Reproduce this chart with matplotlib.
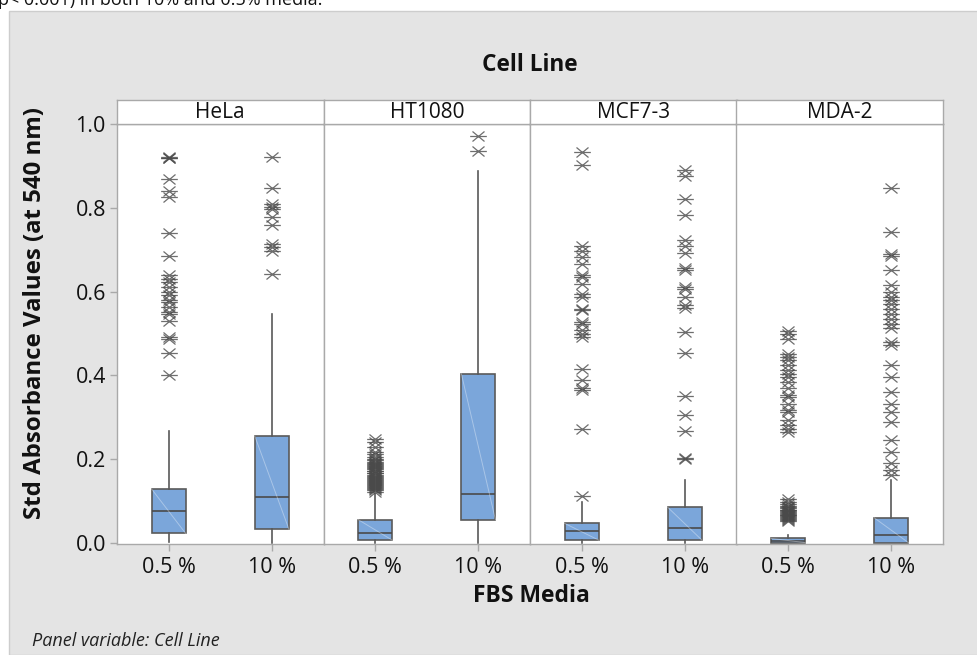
import matplotlib
matplotlib.use("Agg")
import matplotlib.pyplot as plt
from matplotlib.path import Path
from matplotlib.patches import Rectangle

plt.rcParams['font.family'] = ['Open Sans', 'DejaVu Sans']

# ---------------- data ----------------
cell_lines = ["HeLa", "HT1080", "MCF7-3", "MDA-2"]
media = ["0.5 %", "10 %"]

# box statistics per cell line: [0.5 %, 10 %]
q1 = {"HeLa": [0.023, 0.033], "HT1080": [0.007, 0.056], "MCF7-3": [0.007, 0.007], "MDA-2": [0.001, 0.001]}
med = {"HeLa": [0.076, 0.109], "HT1080": [0.023, 0.116], "MCF7-3": [0.029, 0.035], "MDA-2": [0.005, 0.019]}
q3 = {"HeLa": [0.129, 0.255], "HT1080": [0.056, 0.404], "MCF7-3": [0.047, 0.085], "MDA-2": [0.011, 0.060]}
whis_lo = {"HeLa": [0.003, 0.0], "HT1080": [0.0, 0.0], "MCF7-3": [0.0, 0.0], "MDA-2": [0.0, 0.0]}
whis_hi = {"HeLa": [0.267, 0.547], "HT1080": [0.118, 0.889], "MCF7-3": [0.098, 0.150], "MDA-2": [0.019, 0.150]}

hela_05_out = [0.920, 0.922, 0.918, 0.869, 0.841, 0.825, 0.739, 0.686, 0.639, 0.631, 0.623,
               0.611, 0.599, 0.593, 0.579, 0.575, 0.563, 0.551, 0.547, 0.531, 0.492, 0.488,
               0.454, 0.402]
hela_10_out = [0.922, 0.847, 0.809, 0.803, 0.797, 0.778, 0.758, 0.714, 0.706, 0.698, 0.643]
ht_05_out = [0.122, 0.126, 0.129, 0.131, 0.134, 0.137, 0.139, 0.141, 0.144, 0.146, 0.149,
             0.151, 0.153, 0.156, 0.158, 0.161, 0.163, 0.166, 0.168, 0.171, 0.173, 0.176,
             0.178, 0.181, 0.183, 0.186, 0.188, 0.191, 0.194, 0.197, 0.201, 0.206, 0.213,
             0.218, 0.229, 0.241, 0.249]
ht_10_out = [0.972, 0.936]
mcf_05_out = [0.112, 0.271, 0.365, 0.371, 0.388, 0.416, 0.492, 0.500, 0.508, 0.522, 0.527,
              0.557, 0.559, 0.587, 0.595, 0.619, 0.634, 0.639, 0.665, 0.682, 0.698, 0.708,
              0.901, 0.932]
mcf_10_out = [0.200, 0.204, 0.267, 0.305, 0.350, 0.454, 0.504, 0.562, 0.569, 0.587, 0.607,
              0.611, 0.652, 0.656, 0.692, 0.708, 0.722, 0.784, 0.820, 0.877, 0.891]
mda_05_out = [0.052, 0.055, 0.058, 0.060, 0.062, 0.064, 0.066, 0.068, 0.070, 0.072, 0.074,
              0.076, 0.078, 0.080, 0.083, 0.086, 0.089, 0.093, 0.098, 0.104,
              0.265, 0.273, 0.281, 0.293, 0.313, 0.317, 0.333, 0.349, 0.353, 0.369, 0.384,
              0.396, 0.404, 0.412, 0.424, 0.436, 0.444, 0.452, 0.488, 0.500, 0.507]
mda_10_out = [0.162, 0.174, 0.190, 0.218, 0.247, 0.289, 0.313, 0.333, 0.360, 0.396, 0.426,
              0.472, 0.480, 0.512, 0.523, 0.535, 0.547, 0.559, 0.571, 0.581, 0.587, 0.599,
              0.615, 0.652, 0.686, 0.690, 0.743, 0.848]
outliers = {"HeLa": [hela_05_out, hela_10_out], "HT1080": [ht_05_out, ht_10_out],
            "MCF7-3": [mcf_05_out, mcf_10_out], "MDA-2": [mda_05_out, mda_10_out]}

y_ticks = [0.0, 0.2, 0.4, 0.6, 0.8, 1.0]

# ---------------- styling ----------------
W, H = 978, 655
fig = plt.figure(figsize=(W / 100, H / 100), dpi=100)
fig.patch.set_facecolor("white")

# grey frame
fig.patches.append(Rectangle((9 / W, 0), 1.0, 1 - 11 / H, transform=fig.transFigure,
                             facecolor="#e4e4e4", edgecolor="#cdcdcd", linewidth=1.0, zorder=-10))
# clipped line of text above the chart (cut off in the reference as well)
fig.text(-2 / W, 1 - 5 / H, "p< 0.001) in both 10% and 0.5% media.", fontsize=13,
         va="baseline", ha="left", color="#111111")

box_color = "#7ba6da"
edge_color = "#5a5a5a"
frame_color = "#a9a9a9"

star = Path([(-0.72, -0.6), (0.72, 0.6), (-0.72, 0.6), (0.72, -0.6), (-1.0, 0.0), (1.0, 0.0)],
            [Path.MOVETO, Path.LINETO, Path.MOVETO, Path.LINETO, Path.MOVETO, Path.LINETO])

left_px, right_px = 117, 943
top_px, bottom_px, strip_top_px = 124, 544.3, 100
panel_w = (right_px - left_px) / 4
box_w = 0.33

for i, cl in enumerate(cell_lines):
    x0 = (left_px + i * panel_w) / W
    ax = fig.add_axes([x0, 1 - bottom_px / H, panel_w / W, (bottom_px - top_px) / H])
    ax.set_facecolor("white")
    stats = []
    for j in range(2):
        stats.append(dict(med=med[cl][j], q1=q1[cl][j], q3=q3[cl][j],
                          whislo=whis_lo[cl][j], whishi=whis_hi[cl][j],
                          fliers=outliers[cl][j]))
    ax.bxp(stats, positions=[1, 2], widths=box_w, patch_artist=True, showcaps=False,
           boxprops=dict(facecolor=box_color, edgecolor=edge_color, linewidth=1.2),
           medianprops=dict(color="#4a4a4a", linewidth=1.2),
           whiskerprops=dict(color="#595959", linewidth=1.2),
           flierprops=dict(marker=star, markerfacecolor="none", markeredgecolor="#4a4a4a",
                           markersize=12, markeredgewidth=0.9, linestyle="none", alpha=0.8))
    # faint sheen line across each box
    for j, pos in enumerate([1, 2]):
        ax.plot([pos - box_w / 2, pos + box_w / 2], [q3[cl][j], q1[cl][j]],
                color="white", alpha=0.35, linewidth=0.7, zorder=3)
    ax.set_xlim(0.5, 2.5)
    ax.set_ylim(-0.003, 1.0)
    ax.set_xticks([1, 2])
    ax.set_xticklabels(media, fontsize=15.5, color="#111111")
    ax.set_yticks(y_ticks)
    if i == 0:
        ax.set_yticklabels([f"{v:.1f}" for v in y_ticks], fontsize=15.5, color="#111111")
        ax.tick_params(axis="y", length=5, width=1, color=frame_color, pad=3)
    else:
        ax.tick_params(axis="y", left=False, labelleft=False)
    ax.tick_params(axis="x", length=5, width=1, color=frame_color, pad=4)
    for s in ax.spines.values():
        s.set_color(frame_color)
        s.set_linewidth(1.0)

    # strip
    sax = fig.add_axes([x0, 1 - top_px / H, panel_w / W, (top_px - strip_top_px) / H])
    sax.set_facecolor("white")
    sax.set_xticks([])
    sax.set_yticks([])
    for s in sax.spines.values():
        s.set_color(frame_color)
        s.set_linewidth(1.0)
    sax.text(0.5, 0.5, cl, ha="center", va="center", fontsize=15, color="#111111",
             transform=sax.transAxes)

fig.text(530 / W, 1 - 65 / H, "Cell Line", ha="center", va="center", fontsize=16.3,
         fontweight="bold", color="#111111")
fig.text(531 / W, 1 - 596 / H, "FBS Media", ha="center", va="center", fontsize=16.5,
         fontweight="bold", color="#111111")
fig.text(35 / W, 1 - 313 / H, "Std Absorbance Values (at 540 nm)", ha="center", va="center",
         rotation=90, fontsize=17.3, fontweight="bold", color="#111111")
fig.text(32 / W, 1 - 641 / H, "Panel variable: Cell Line", ha="left", va="center",
         fontsize=13, style="italic", color="#222222")

fig.savefig("out.png", dpi=100)
